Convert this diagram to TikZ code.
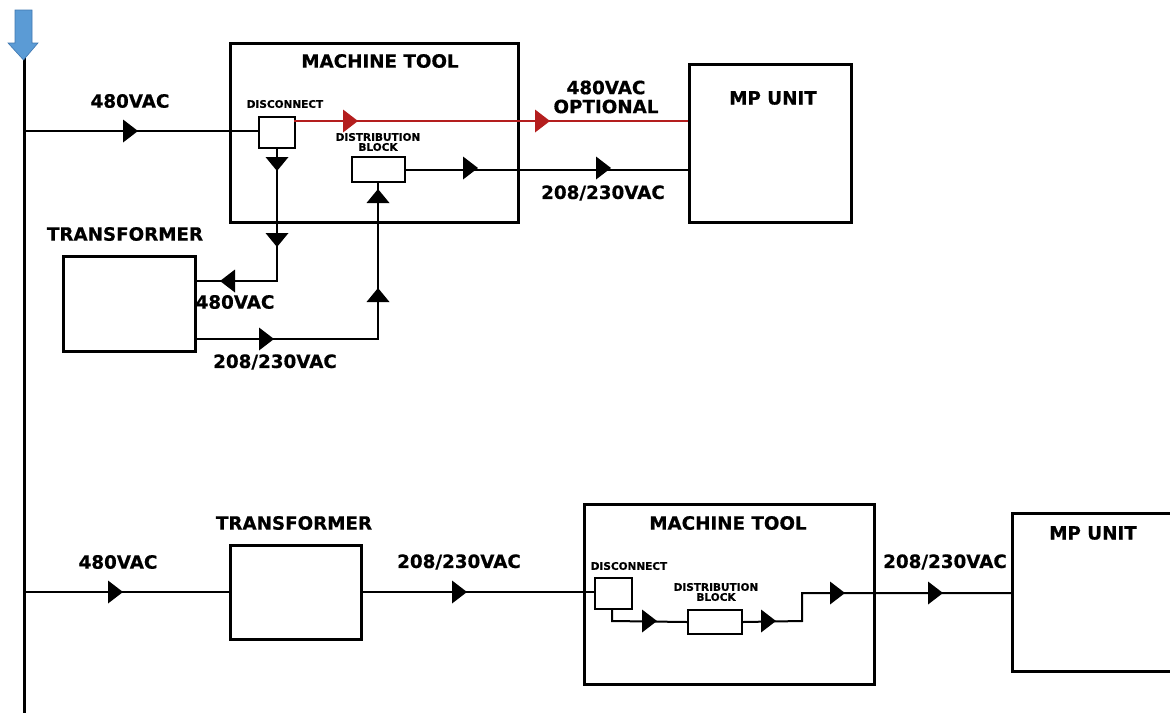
\documentclass[tikz,border=0pt]{standalone}
\usepackage{fontspec}
\setmainfont{DejaVu Sans}[BoldFeatures={FakeBold=0.6}]
\usetikzlibrary{positioning}
\definecolor{redline}{HTML}{B41E1E}
\definecolor{bluearrow}{HTML}{5B9BD5}
\definecolor{bluedark}{HTML}{3F77B0}
\tikzset{
  bigbox/.style={draw, line width=3pt, inner sep=0pt, anchor=north west},
  smallbox/.style={draw, line width=2pt, fill=white, inner sep=0pt, anchor=north west},
  wire/.style={line width=2pt},
  redwire/.style={line width=2pt, draw=redline},
  biglabel/.style={font=\bfseries\fontsize{18.3}{21}\selectfont, inner sep=0pt},
  tinylabel/.style={font=\bfseries\fontsize{10.5}{12}\selectfont, inner sep=0pt, align=center},
  triR/.pic={\fill (0,-11.5) -- (15,0) -- (0,11.5) -- cycle;},
  triL/.pic={\fill (0,-11.5) -- (-15,0) -- (0,11.5) -- cycle;},
  triD/.pic={\fill (-11.5,0) -- (0,14) -- (11.5,0) -- cycle;},
  triU/.pic={\fill (-11.5,0) -- (0,-14) -- (11.5,0) -- cycle;},
}
\begin{document}
\begin{tikzpicture}[x=1pt,y=-1pt]
\useasboundingbox (0,0) rectangle (1170,713);
% bus
\coordinate (busTop) at (24,55);
\coordinate (busBot) at (24,713);
\draw[line width=3pt] (busTop) -- (busBot);
\fill[bluearrow, draw=bluedark, line width=0.6pt] (15,10) -- (32,10) -- (32,43) -- (38,43) -- (23.5,60) -- (8,43) -- (15,43) -- cycle;

% ---------- top section ----------
\node[bigbox, minimum width=288pt, minimum height=179pt] (mt1) at (229,42) {};
\node[biglabel] (mt1t) at (380,61) {MACHINE TOOL};
\node[bigbox, minimum width=162pt, minimum height=158pt] (mp1) at (688,63) {};
\node[biglabel] (mp1t) at (773,98) {MP UNIT};
\node[bigbox, minimum width=132pt, minimum height=95pt] (tr1) at (62,255) {};
\node[biglabel] (tr1t) at (125,234) {TRANSFORMER};

\node[smallbox, minimum width=36pt, minimum height=31pt] (dc1) at (258,116) {};
\node[tinylabel] (dc1t) at (285,104) {DISCONNECT};
\node[smallbox, minimum width=53pt, minimum height=25pt] (db1) at (351,156) {};
\node[tinylabel] (db1t) at (378,142) {DISTRIBUTION\\[-2pt]BLOCK};

\coordinate (b1) at (24,131);
\draw[wire] (b1) -- (dc1.west |- b1);
\pic at (123,131) {triR};
\node[biglabel] (l480a) at (130,101) {480VAC};

\coordinate (r1) at (294,121);
\draw[redwire] (r1) -- (mp1.west |- r1);
\pic[redline] at (343,121) {triR};
\pic[redline] at (535,121) {triR};
\node[biglabel, align=center] (lopt) at (606,97) {480VAC\\[-2pt]OPTIONAL};

\draw[wire] (db1.east) -- (mp1.west |- db1.east);
\pic at (463,168) {triR};
\pic at (596,168) {triR};
\node[biglabel] (l208a) at (603,193) {208/230VAC};

\coordinate (c1) at (277,281);
\draw[wire] (dc1.south -| c1) -- (c1) -- (tr1.east |- c1);
\pic at (277,157) {triD};
\pic at (277,233) {triD};
\pic at (235,281) {triL};
\node[biglabel] (l480b) at (235,302) {480VAC};

\coordinate (c2) at (378,339);
\draw[wire] (tr1.east |- c2) -- (c2) -- (db1.south -| c2);
\pic at (378,203) {triU};
\pic at (378,302) {triU};
\pic at (259,339) {triR};
\node[biglabel] (l208b) at (275,362) {208/230VAC};

% ---------- bottom section ----------
\node[bigbox, minimum width=131pt, minimum height=94pt] (tr2) at (229,544) {};
\node[biglabel] (tr2t) at (294,523) {TRANSFORMER};
\node[bigbox, minimum width=290pt, minimum height=180pt] (mt2) at (583,503) {};
\node[biglabel] (mt2t) at (728,523) {MACHINE TOOL};
\coordinate (mp2a) at (1172,513);
\coordinate (mp2b) at (1012,513);
\coordinate (mp2c) at (1012,671);
\coordinate (mp2d) at (1172,671);
\draw[line width=3pt] (mp2a) -- (mp2b) -- (mp2c) -- (mp2d);
\node[biglabel] (mp2t) at (1093,533) {MP UNIT};

\node[smallbox, minimum width=37pt, minimum height=31pt] (dc2) at (594,577) {};
\node[tinylabel] (dc2t) at (629,566) {DISCONNECT};
\node[smallbox, minimum width=54pt, minimum height=24pt] (db2) at (687,609) {};
\node[tinylabel] (db2t) at (716,592) {DISTRIBUTION\\[-2pt]BLOCK};

\coordinate (b2) at (24,592);
\draw[wire] (b2) -- (tr2.west |- b2);
\pic at (108,592) {triR};
\node[biglabel] (l480c) at (118,562) {480VAC};

\draw[wire] (tr2.east |- b2) -- (dc2.west |- b2);
\pic at (452,592) {triR};
\node[biglabel] (l208c) at (459,562) {208/230VAC};

\coordinate (d1) at (612,621);
\draw[wire] (dc2.south -| d1) -- (d1) -- (db2.west);
\pic at (642,621) {triR};

\coordinate (d2) at (802,621);
\coordinate (d3) at (802,593);
\draw[wire] (db2.east) -- (d2) -- (d3) -- (mp2b |- d3);
\pic at (761,621) {triR};
\pic at (830,593) {triR};
\pic at (928,593) {triR};
\node[biglabel] (l208d) at (945,562) {208/230VAC};
\end{tikzpicture}
\end{document}
